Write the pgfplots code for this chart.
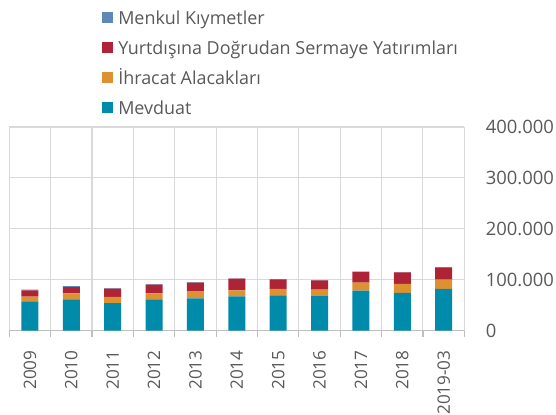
\documentclass[border=0pt]{standalone}
\usepackage{pgfplots}
\pgfplotsset{compat=1.18}
\usepackage{fontspec}
\setmainfont{Open Sans}
\definecolor{cMev}{HTML}{008BAB}
\definecolor{cIhr}{HTML}{DD9131}
\definecolor{cYur}{HTML}{AF2336}
\definecolor{cMen}{HTML}{5E89B6}
\definecolor{txt}{HTML}{595959}
\definecolor{gridc}{HTML}{D9D9D9}
\definecolor{axc}{HTML}{BFBFBF}
\begin{document}
\begin{tikzpicture}
\begin{axis}[
  scale only axis, width=455bp, height=203.5bp,
  xmin=-0.5, xmax=10.5, ymin=0, ymax=400000,
  ybar stacked, bar width=17bp,
  axis x line*=bottom, axis y line*=right,
  x axis line style={-, draw=axc, line width=1.3bp},
  y axis line style={draw=none},
  xtick={0,...,10},
  xticklabels={2009,2010,2011,2012,2013,2014,2015,2016,2017,2018,2019-03},
  major x tick style={draw=none},
  minor xtick={-0.5,0.5,...,10.5},
  minor x tick style={draw=axc, line width=1.2bp},
  minor tick length=6.7bp,
  tick align=outside,
  xminorgrids=true, ymajorgrids=true,
  minor grid style={draw=gridc, line width=1.1bp},
  major grid style={draw=gridc, line width=1.1bp},
  ytick={0,100000,200000,300000,400000},
  ytick style={draw=none},
  scaled y ticks=false,
  /pgf/number format/fixed,
  /pgf/number format/1000 sep={.},
  /pgf/number format/assume math mode=true,
  yticklabel style={anchor=west, inner sep=0pt, xshift=17bp, font=\fontsize{18.5}{20}\selectfont, text=txt},
  xticklabel style={yshift=-15.5bp, rotate=90, anchor=east, inner sep=0pt, font=\fontsize{17.2}{20}\selectfont, text=txt},
  reverse legend,
  legend cell align=left,
  legend image code/.code={\fill[#1] (0bp,-5.5bp) rectangle (11bp,5.5bp);},
  legend style={draw=none, fill=none, inner sep=0pt, outer sep=0pt,
    at={(axis description cs:0,1)}, anchor=north west, xshift=92.4bp, yshift=116.2bp,
    font=\fontsize{18}{20}\selectfont, text=txt,
    nodes={inner sep=0pt, text height=14bp, text depth=0bp},
    row sep=16bp, column sep=5.6bp},
]
\addplot[fill=cMev, draw=none] coordinates {(0,57200) (1,61100) (2,54000) (3,61100) (4,63100) (5,67100) (6,69100) (7,67800) (8,78300) (9,73800) (10,81700)};
\addplot[fill=cIhr, draw=none] coordinates {(0,9300) (1,11800) (2,11900) (3,11800) (4,14300) (5,11800) (6,12600) (7,12500) (8,15800) (9,17700) (10,18300)};
\addplot[fill=cYur, draw=none] coordinates {(0,12400) (1,12500) (2,16600) (3,17400) (4,16900) (5,23000) (6,18800) (7,18300) (8,21100) (9,22900) (10,24300)};
\addplot[fill=cMen, draw=none] coordinates {(0,1500) (1,2000) (2,700) (3,1000) (4,900) (5,500) (6,500) (7,500) (8,500) (9,500) (10,500)};
\legend{Mevduat, İhracat Alacakları, Yurtdışına Doğrudan Sermaye Yatırımları, Menkul Kıymetler}
\end{axis}
\pgfresetboundingbox
\path ([xshift=-9.3bp, yshift=-84.5bp]current axis.south west) rectangle ([xshift=91.7bp, yshift=127bp]current axis.north east);
\end{tikzpicture}
\end{document}
